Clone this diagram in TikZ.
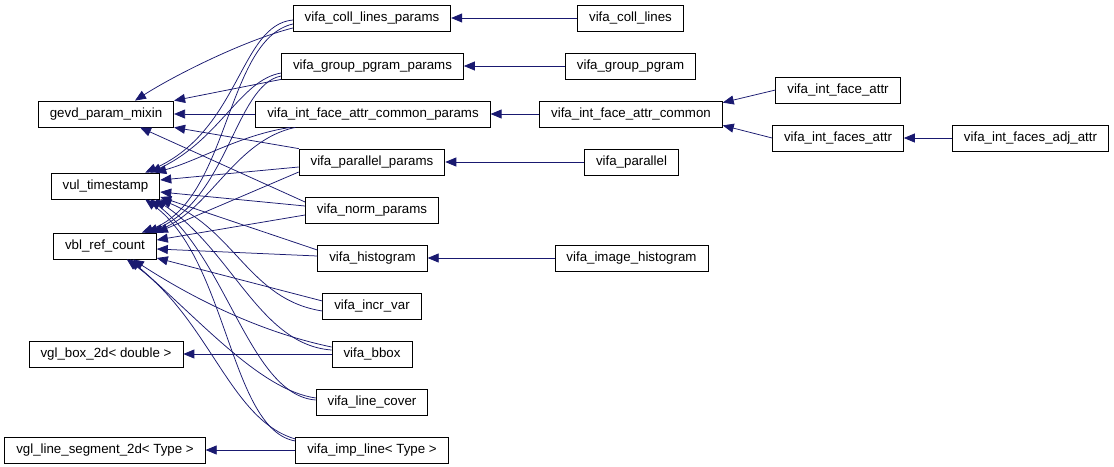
\documentclass[tikz,border=0pt]{standalone}
\usepackage{fontspec}
\setmainfont{Liberation Sans}
\usetikzlibrary{arrows.meta}
\definecolor{edgeBlue}{RGB}{25, 25, 112}
\tikzset{
  classBox/.style={draw, line width=0.8pt, minimum height=26pt, inner xsep=11.5pt, inner ysep=0pt, font=\fontsize{13.3}{15}\selectfont},
  inherit/.style={edgeBlue, line width=0.75pt, -{Triangle[length=11pt,width=9pt]}}
}

\begin{document}
\begin{tikzpicture}[x=1pt, y=-1pt]
        \path[fill=white, use as bounding box] (0,0) rectangle (1114,466);
        % Base classes
        \node[classBox] (gevd) at (106,114) {gevd\_param\_mixin};
        \node[classBox] (vul) at (105.5,186) {vul\_timestamp};
        \node[classBox] (vbl) at (105,246) {vbl\_ref\_count};
        \node[classBox] (box2d) at (106,354) {vgl\_box\_2d< double >};
        \node[classBox] (seg2d) at (105,450) {vgl\_line\_segment\_2d< Type >};
        % Middle column
        \node[classBox] (collP) at (372,18) {vifa\_coll\_lines\_params};
        \node[classBox] (groupP) at (372.5,66) {vifa\_group\_pgram\_params};
        \node[classBox] (ifacP) at (373,114) {vifa\_int\_face\_attr\_common\_params};
        \node[classBox] (parP) at (372,162) {vifa\_parallel\_params};
        \node[classBox] (normP) at (372,210) {vifa\_norm\_params};
        \node[classBox] (hist) at (372.5,258) {vifa\_histogram};
        \node[classBox] (incr) at (372,306) {vifa\_incr\_var};
        \node[classBox] (bbox) at (372,354) {vifa\_bbox};
        \node[classBox] (cover) at (372,402) {vifa\_line\_cover};
        \node[classBox] (imp) at (372,450) {vifa\_imp\_line< Type >};
        % Right columns
        \node[classBox] (coll) at (630.5,18) {vifa\_coll\_lines};
        \node[classBox] (group) at (630.5,66) {vifa\_group\_pgram};
        \node[classBox] (ifac) at (631,114) {vifa\_int\_face\_attr\_common};
        \node[classBox] (par) at (631.5,162) {vifa\_parallel};
        \node[classBox] (imgHist) at (631.5,258) {vifa\_image\_histogram};
        \node[classBox] (iface) at (838,90) {vifa\_int\_face\_attr};
        \node[classBox] (ifaces) at (838,138) {vifa\_int\_faces\_attr};
        \node[classBox] (adj) at (1030.5,138) {vifa\_int\_faces\_adj\_attr};
        % Into gevd_param_mixin
        \draw[inherit] ([yshift=-10pt]collP.west) .. controls (245,40) and (175,75) .. ([xshift=29pt]gevd.north);
        \draw[inherit] (groupP.south west) -- (gevd.north east);
        \draw[inherit] (ifacP.west) -- (gevd.east);
        \draw[inherit] (parP.north west) -- (gevd.south east);
        \draw[inherit] ([yshift=8pt]normP.west) -- ([xshift=34pt]gevd.south);
        % Into vul_timestamp
        \draw[inherit] ([yshift=-2pt]collP.west) .. controls (240,25) and (240,130) .. ([xshift=-15pt]vul.north east);
        \draw[inherit] ([yshift=-7pt]groupP.west) .. controls (240,80) and (220,140) .. ([xshift=-10pt]vul.north east);
        \draw[inherit] ([xshift=35pt]ifacP.south west) .. controls (240,135) and (200,160) .. ([xshift=-5pt]vul.north east);
        \draw[inherit] ([yshift=-5pt]parP.west) -- ([yshift=6pt]vul.east);
        \draw[inherit] ([yshift=4pt]normP.west) -- ([yshift=-6pt]vul.east);
        \draw[inherit] ([yshift=8pt]hist.west) -- ([yshift=-11pt]vul.east);
        \draw[inherit] ([yshift=-5pt]incr.west) .. controls (250,300) and (235,230) .. (vul.south east);
        \draw[inherit] ([yshift=4pt]bbox.west) .. controls (260,345) and (232,250) .. ([xshift=-5pt]vul.south east);
        \draw[inherit] ([yshift=2pt]cover.west) .. controls (250,395) and (228,260) .. ([xshift=-10pt]vul.south east);
        \draw[inherit] ([yshift=9pt]imp.west) .. controls (230,430) and (228,260) .. ([xshift=-15pt]vul.south east);
        % Into vbl_ref_count
        \draw[inherit] ([yshift=-6pt]collP.west) .. controls (225,40) and (230,200) .. ([xshift=-15pt]vbl.north east);
        \draw[inherit] ([yshift=-10pt]groupP.west) .. controls (235,85) and (228,200) .. ([xshift=-10pt]vbl.north east);
        \draw[inherit] ([xshift=40pt]ifacP.south west) .. controls (235,140) and (210,210) .. ([xshift=-5pt]vbl.north east);
        \draw[inherit] ([yshift=-10pt]parP.west) -- (vbl.north east);
        \draw[inherit] ([yshift=-5pt]normP.west) -- ([yshift=6pt]vbl.east);
        \draw[inherit] ([yshift=2pt]hist.west) -- ([yshift=-3pt]vbl.east);
        \draw[inherit] ([yshift=5pt]incr.west) -- ([yshift=-12pt]vbl.east);
        \draw[inherit] ([yshift=7pt]bbox.west) .. controls (250,330) and (180,290) .. ([xshift=-24pt]vbl.south east);
        \draw[inherit] ([yshift=4pt]cover.west) .. controls (260,390) and (200,320) .. ([xshift=-27pt]vbl.south east);
        \draw[inherit] ([yshift=11pt]imp.west) .. controls (230,420) and (210,320) .. ([xshift=-30pt]vbl.south east);
        % Other bases
        \draw[inherit] (bbox.west) -- (box2d.east);
        \draw[inherit] (imp.west) -- (seg2d.east);
        % Right side
        \draw[inherit] (coll.west) -- (collP.east);
        \draw[inherit] (group.west) -- (groupP.east);
        \draw[inherit] (ifac.west) -- (ifacP.east);
        \draw[inherit] (par.west) -- (parP.east);
        \draw[inherit] (imgHist.west) -- (hist.east);
        \draw[inherit] (iface.west) -- ([yshift=-2pt]ifac.north east);
        \draw[inherit] (ifaces.west) -- ([yshift=2pt]ifac.south east);
        \draw[inherit] (adj.west) -- (ifaces.east);
      \end{tikzpicture}
\end{document}
